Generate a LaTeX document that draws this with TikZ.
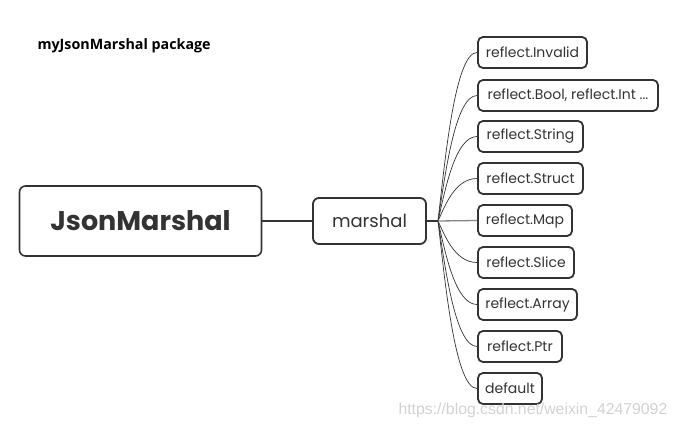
\documentclass[tikz,border=0pt]{standalone}
\usepackage{fontspec}
\setmainfont{Poppins}
\newfontfamily\titlefont{Open Sans}
\newfontfamily\wmfont{Liberation Sans}
\definecolor{ink}{HTML}{333333}
\definecolor{wm}{HTML}{D2D2D2}
\begin{document}
\begin{tikzpicture}[x=1pt,y=-1pt,
  rootbox/.style={draw=ink, line width=1.6pt, rounded corners=6pt, text=ink, font=\fontsize{27}{30}\selectfont\bfseries, inner sep=0pt},
  midbox/.style={draw=ink, line width=1.8pt, rounded corners=6pt, text=ink, font=\fontsize{18}{20}\selectfont, inner sep=0pt},
  leafbox/.style={draw=ink, line width=1.8pt, rounded corners=5pt, text=ink, font=\fontsize{14}{16}\selectfont, inner sep=0pt, minimum height=31pt},
  leafline/.style={draw=ink, line width=0.7pt}
]
\useasboundingbox (0,0) rectangle (677,430);
\node[anchor=west, font=\titlefont\fontsize{14.3}{16}\selectfont\bfseries] (title) at (34,45.5) {myJsonMarshal package};
\node[rootbox, minimum width=242pt, minimum height=70pt] (root) at (140.5,221) {JsonMarshal};
\node[midbox, minimum width=113pt, minimum height=46pt] (mid) at (369.5,221) {marshal};
\coordinate (j) at (438,221);
\node[leafbox, minimum width=109pt] (c1) at (532.5,52.5) {reflect.Invalid};
\node[leafbox, minimum width=180pt] (c2) at (568,95.5) {reflect.Bool, reflect.Int ...};
\node[leafbox, minimum width=105pt] (c3) at (530.5,136.5) {reflect.String};
\node[leafbox, minimum width=105pt] (c4) at (530.5,178.5) {reflect.Struct};
\node[leafbox, minimum width=94pt] (c5) at (525,220.5) {reflect.Map};
\node[leafbox, minimum width=96pt] (c6) at (526,262.5) {reflect.Slice};
\node[leafbox, minimum width=99pt] (c7) at (527.5,304.5) {reflect.Array};
\node[leafbox, minimum width=84pt] (c8) at (520,346.5) {reflect.Ptr};
\node[leafbox, minimum width=64pt] (c9) at (510,388.5) {default};
\draw[ink, line width=2.6pt] (root.east) -- (mid.west);
\draw[ink, line width=2.6pt] (mid.east) -- (j);
\foreach \c/\y in {c1/52.5,c2/95.5,c3/136.5,c4/178.5,c6/262.5,c7/304.5,c8/346.5,c9/388.5}{
  \pgfmathsetmacro{\cy}{\y+0.64*(221-\y)}
  \draw[leafline] (j) .. controls (445,\cy) and (455,\y) .. (\c.west);
}
\draw[color=ink!60, line width=1.3pt] (j) -- (c5.west);
\node[anchor=west, text=wm, font=\wmfont\fontsize{15.8}{17}\selectfont] (wmark) at (395,410) {https://blog.csdn.net/weixin\_42479092};
\end{tikzpicture}
\end{document}
